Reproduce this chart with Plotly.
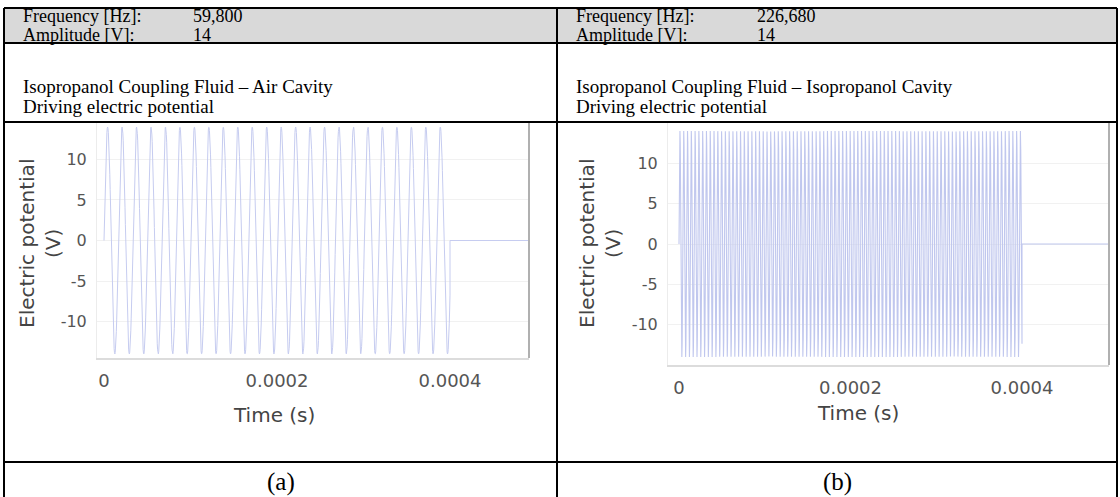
import numpy as np
import plotly.graph_objects as go

# ---- data ----
panel_labels = ["(a)", "(b)"]
frequency_hz = [59800, 226680]
frequency_text = ["59,800", "226,680"]
amplitude_v = [14, 14]
burst_end_s = [0.0004, 0.0004]
time_end_s = [0.00049, 0.00050]
case_titles = ["Isopropanol Coupling Fluid \u2013 Air Cavity",
               "Isopropanol Coupling Fluid \u2013 Isopropanol Cavity"]
sub_title = "Driving electric potential"
x_tick_vals = [0, 0.0002, 0.0004]
x_tick_text = ["0", "0.0002", "0.0004"]
y_tick_vals = [-10, -5, 0, 5, 10]
y_tick_text = ["-10", "-5", "0", "5", "10"]

W, H = 1120, 497

def px(x):
    return x / W

def py(y):
    return 1 - y / H

fig = go.Figure()

# panel geometry (pixels)
panels = [
    dict(xl=97, xr=529, yt=123, yb=358, x0=104, x4=450, cellx=4, cellr=557,
         yr=[-14.5, 14.5], val_x=192, tlab=415, toff=-3, color="#c6ccf0", lw=1),
    dict(xl=668, xr=1109, yt=123, yb=365, x0=679, x4=1022, cellx=557, cellr=1117,
         yr=[-15.0, 15.0], val_x=756, tlab=413, toff=7, color="#c0c7ee", lw=1.1),
]

for i, p in enumerate(panels):
    f = frequency_hz[i]
    A = amplitude_v[i]
    n = int(f * burst_end_s[i] * 40)
    t = np.linspace(0, burst_end_s[i], n)
    v = A * np.sin(2 * np.pi * f * t)
    t = np.concatenate([t, [burst_end_s[i], time_end_s[i] * 1.05]])
    v = np.concatenate([v, [0.0, 0.0]])
    xa = "x" if i == 0 else "x2"
    ya = "y" if i == 0 else "y2"
    fig.add_trace(go.Scatter(x=t, y=v, mode="lines", xaxis=xa, yaxis=ya,
                             line=dict(color=p["color"], width=p["lw"]),
                             showlegend=False, hoverinfo="skip"))
    s = (p["x4"] - p["x0"]) / 0.0004
    xmin = (p["xl"] - p["x0"]) / s
    xmax = (p["xr"] - p["x0"]) / s
    xax = dict(domain=[px(p["xl"]), px(p["xr"])], range=[xmin, xmax],
               tickvals=x_tick_vals, ticktext=x_tick_text,
               showgrid=False, zeroline=False, showline=True,
               linecolor="#dcdcdc", linewidth=2, mirror=False,
               tickfont=dict(family="DejaVu Sans", size=18, color="#555555"),
               ticks="", ticklabelstandoff=5)
    yax = dict(domain=[py(p["yb"]), py(p["yt"])], range=p["yr"],
               tickvals=y_tick_vals, ticktext=y_tick_text,
               showgrid=True, gridcolor="#f1f1f1", zeroline=False,
               showline=True, linecolor="#ececec", ticks="",
               tickfont=dict(family="DejaVu Sans", size=16, color="#555555"),
               ticklabelstandoff=6)
    if i == 0:
        xax["anchor"] = "y"
        yax["anchor"] = "x"
        fig.update_layout(xaxis=xax, yaxis=yax)
    else:
        xax["anchor"] = "y2"
        yax["anchor"] = "x2"
        fig.update_layout(xaxis2=xax, yaxis2=yax)

shapes = []
# gray header
shapes.append(dict(type="rect", xref="paper", yref="paper",
                   x0=px(4), x1=px(1117), y0=py(43), y1=py(8),
                   fillcolor="#d9d9d9", line=dict(width=0), layer="below"))
# plot right borders
for p in panels:
    shapes.append(dict(type="line", xref="paper", yref="paper",
                       x0=px(p["xr"]), x1=px(p["xr"]), y0=py(p["yb"]), y1=py(p["yt"]),
                       line=dict(color="#b0b0b0", width=2)))
# table lines
for y in [8, 43, 122, 462]:
    shapes.append(dict(type="line", xref="paper", yref="paper",
                       x0=px(4), x1=px(1117), y0=py(y), y1=py(y),
                       line=dict(color="black", width=2)))
for x in [4, 557, 1117]:
    shapes.append(dict(type="line", xref="paper", yref="paper",
                       x0=px(x), x1=px(x), y0=py(8), y1=py(497),
                       line=dict(color="black", width=2)))

ann = []

def A_(x, y, text, font, xanchor="left", **kw):
    d = dict(x=px(x), y=py(y), xref="paper", yref="paper", text=text,
             showarrow=False, xanchor=xanchor, yanchor="middle", font=font,
             borderpad=0)
    d.update(kw)
    ann.append(d)

head = dict(family="Liberation Serif", size=18, color="black")
big = dict(family="Liberation Serif", size=19, color="black")
for i, p in enumerate(panels):
    cx = p["cellx"] + 18
    A_(cx, 16, "Frequency [Hz]:", head)
    A_(p["val_x"], 16, frequency_text[i], head)
    A_(cx, 35, "Amplitude [V]:", head)
    A_(p["val_x"], 35, str(amplitude_v[i]), head)
    A_(cx, 86, case_titles[i], big)
    A_(cx, 106, sub_title, big)
    A_((p["cellx"] + p["cellr"]) / 2, 482, panel_labels[i],
       dict(family="Liberation Serif", size=25, color="black"), xanchor="center")
    mid = p["x0"] + (p["x4"] - p["x0"]) / 2 + p["toff"]
    A_(mid, p["tlab"], "Time (s)",
       dict(family="DejaVu Sans", size=20, color="#444444"), xanchor="center")
    A_(p["cellx"] + 36 if i == 0 else p["cellx"] + 43, 244, "Electric potential<br>(V)",
       dict(family="DejaVu Sans", size=20, color="#444444"), xanchor="center",
       textangle=-90)

fig.update_layout(width=W, height=H, margin=dict(l=0, r=0, t=0, b=0),
                  paper_bgcolor="white", plot_bgcolor="white",
                  shapes=shapes, annotations=ann, showlegend=False)

fig.write_html("out.html")
